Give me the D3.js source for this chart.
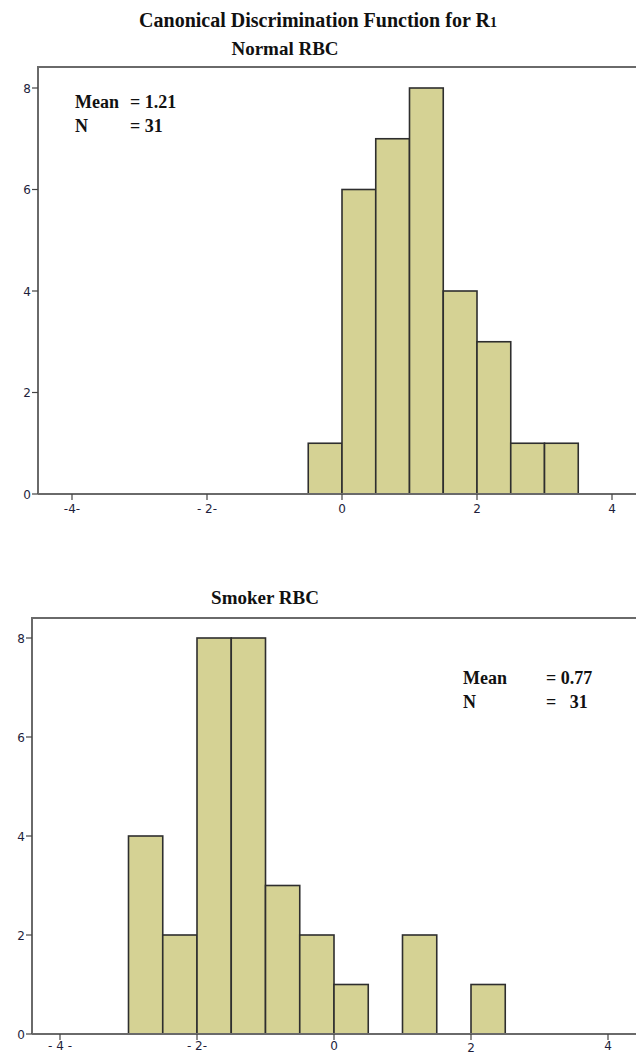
<!DOCTYPE html>
<html lang="en">
<head>
    <meta charset="UTF-8">
    <title>Canonical Discrimination Function for R1</title>
    <script src="https://d3js.org/d3.v7.min.js"></script>
    <style>
        body { margin: 0; background: #ffffff; }
        .title { font-family: 'Liberation Serif', serif; font-weight: bold; fill: #111; }
        .stat { font-family: 'Liberation Serif', serif; font-weight: bold; font-size: 18px; fill: #111; }
        .tick-label { font-family: 'DejaVu Sans', sans-serif; font-size: 12px; fill: #1e1e3c; }
    </style>
</head>
<body>
<div id="chart"></div>
<script>
    // Histogram data (bin width 0.5)
    const binWidth = 0.5;
    const normalBinStarts = [-0.5, 0, 0.5, 1, 1.5, 2, 2.5, 3];
    const normalCounts = [1, 6, 7, 8, 4, 3, 1, 1];
    const smokerBinStarts = [-3, -2.5, -2, -1.5, -1, -0.5, 0, 0.5, 1, 1.5, 2];
    const smokerCounts = [4, 2, 8, 8, 3, 2, 1, 0, 2, 0, 1];

    // Axes
    const xTicks = [-4, -2, 0, 2, 4];
    const normalTickLabels = ["-4-", "- 2-", "0", "2", "4"];
    const smokerTickLabels = ["- 4 -", "- 2-", "0", "2", "4"];
    const yTicks = [0, 2, 4, 6, 8];

    const W = 636, H = 1055;
    const svg = d3.select("#chart").append("svg")
        .attr("width", W)
        .attr("height", H);

    // Main title
    const t = svg.append("text")
        .attr("class", "title")
        .attr("x", 318)
        .attr("y", 27)
        .attr("text-anchor", "middle")
        .style("font-size", "20px");
    t.append("tspan").text("Canonical Discrimination Function for R");
    t.append("tspan").style("font-size", "14px").text("1");

    function drawPanel(p) {
        const g = svg.append("g");
        const x = d3.scaleLinear().domain([-4, 4]).range(p.xRange);
        const y = d3.scaleLinear().domain([0, 8]).range(p.yRange);
        const base = y(0);

        g.append("text")
            .attr("class", "title")
            .attr("x", p.subX)
            .attr("y", p.subY)
            .attr("text-anchor", "middle")
            .style("font-size", "19px")
            .text(p.subtitle);

        // bars
        const data = p.starts.map((s, i) => ({ x0: s, count: p.counts[i] })).filter(d => d.count > 0);
        g.selectAll("rect.bar").data(data).enter()
            .append("rect")
            .attr("class", "bar")
            .attr("x", d => x(d.x0))
            .attr("width", d => x(d.x0 + binWidth) - x(d.x0))
            .attr("y", d => y(d.count))
            .attr("height", d => base - y(d.count))
            .attr("fill", "#d5d294")
            .attr("stroke", "#2e2e2e")
            .attr("stroke-width", 1.6);

        // frame: top line, left axis, baseline
        const frame = "#6a6a6a";
        g.append("line").attr("x1", p.axisX).attr("x2", W).attr("y1", p.top).attr("y2", p.top)
            .attr("stroke", frame).attr("stroke-width", 2);
        g.append("line").attr("x1", p.axisX).attr("x2", p.axisX).attr("y1", p.top - 1).attr("y2", base)
            .attr("stroke", frame).attr("stroke-width", 2);
        g.append("line").attr("x1", p.axisX).attr("x2", W).attr("y1", base).attr("y2", base)
            .attr("stroke", frame).attr("stroke-width", 2);

        // y ticks
        yTicks.forEach(v => {
            g.append("line").attr("x1", p.axisX - 6).attr("x2", p.axisX)
                .attr("y1", y(v)).attr("y2", y(v))
                .attr("stroke", "#444").attr("stroke-width", 1.2);
            g.append("text").attr("class", "tick-label")
                .attr("x", p.axisX - 7).attr("y", y(v) + 4.5)
                .attr("text-anchor", "end")
                .text(v);
        });

        // x ticks
        xTicks.forEach((v, i) => {
            g.append("line").attr("x1", x(v)).attr("x2", x(v))
                .attr("y1", base).attr("y2", base + 6)
                .attr("stroke", "#444").attr("stroke-width", 1.2);
            g.append("text").attr("class", "tick-label")
                .attr("x", x(v)).attr("y", base + p.tickDy + (p.lowTick === i ? 2 : 0))
                .attr("text-anchor", "middle")
                .text(p.tickLabels[i]);
        });

        // stats box
        const s = g.append("g");
        s.append("text").attr("class", "stat").attr("x", p.statX).attr("y", p.statY).text("Mean");
        s.append("text").attr("class", "stat").attr("x", p.eqX).attr("y", p.statY).text("= " + p.mean);
        s.append("text").attr("class", "stat").attr("x", p.statX).attr("y", p.statY + 24).text("N");
        s.append("text").attr("class", "stat").attr("x", p.eqX).attr("y", p.statY + 24).text("= " + p.nText);
    }

    drawPanel({
        subtitle: "Normal RBC", subX: 285, subY: 55,
        starts: normalBinStarts, counts: normalCounts, tickLabels: normalTickLabels,
        xRange: [72, 612], yRange: [494, 88], axisX: 38, top: 67, tickDy: 19,
        statX: 75, eqX: 130, statY: 108, mean: "1.21", nText: "31"
    });

    drawPanel({
        subtitle: "Smoker RBC", subX: 265, subY: 604,
        starts: smokerBinStarts, counts: smokerCounts, tickLabels: smokerTickLabels,
        xRange: [60, 608], yRange: [1034, 638], axisX: 32, top: 618, lowTick: 3, tickDy: 16,
        statX: 463, eqX: 546, statY: 684, mean: "0.77", nText: "\u00a0 31"
    });
</script>
</body>
</html>
